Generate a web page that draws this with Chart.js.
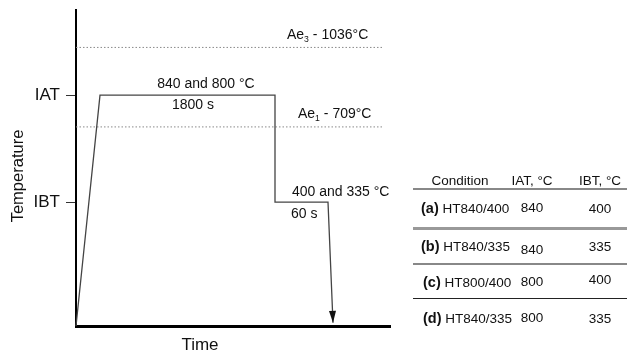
<!DOCTYPE html>
<html>
<head>
<meta charset="utf-8">
<title>Heat treatment cycle</title>
<script src="https://cdn.jsdelivr.net/npm/chart.js@4.4.0/dist/chart.umd.min.js"></script>
<style>
  html, body { margin: 0; padding: 0; background: #fff; }
  #wrap { position: relative; width: 627px; height: 354px; font-family: "Liberation Sans", Arial, sans-serif; color: #111; }
  #cycle { position: absolute; left: 0; top: 0; }
  .cell { position: absolute; font-size: 13.5px; white-space: nowrap; transform: translate(-50%, -50%); }
  .lab { position: absolute; font-size: 13.5px; white-space: nowrap; transform: translateY(-50%); }
  .lab b { font-size: 14.5px; }
  .rule { position: absolute; left: 413px; width: 214px; }
</style>
</head>
<body>
<div id="wrap">
  <canvas id="cycle" width="627" height="354"></canvas>
  <div id="conditions"></div>
</div>
<script>
// thermal cycle (schematic time axis, temperature in °C)
const timePts = [0, 24, 199, 199, 252, 257];
const tempPts = [-110, 840, 840, 400, 400, -97];

// critical temperatures
const aeNames = ["Ae3", "Ae1"];
const aeTemps = [1036, 709];
const aeSpan = [0, 307];

// temperature axis ticks
const tickTemps = [400, 840];
const tickLabels = ["IBT", "IAT"];

// conditions table
const condKeys = ["(a)", "(b)", "(c)", "(d)"];
const condCodes = ["HT840/400", "HT840/335", "HT800/400", "HT840/335"];
const condIAT = [840, 840, 800, 800];
const condIBT = [400, 335, 400, 335];

const FONT = "'Liberation Sans', Arial, sans-serif";

// ---- table ----
const tbl = document.getElementById("conditions");
const rowY = [208, 246, 282, 318];
const rules = [[189, 2, "#888"], [228, 3, "#999"], [264, 2, "#888"], [298, 1, "#222"]];

function put(cls, html, x, y) {
  const d = document.createElement("div");
  d.className = cls;
  d.innerHTML = html;
  d.style.left = x + "px";
  d.style.top = y + "px";
  tbl.appendChild(d);
}

put("cell", "Condition", 460, 180);
put("cell", "IAT, °C", 532, 180);
put("cell", "IBT, °C", 600, 180);
rules.forEach(([y, h, c]) => {
  const r = document.createElement("div");
  r.className = "rule";
  r.style.top = (y - h / 2) + "px";
  r.style.height = h + "px";
  r.style.background = c;
  tbl.appendChild(r);
});
condKeys.forEach((k, i) => {
  put("lab", `<b>${k}</b> ${condCodes[i]}`, i < 2 ? 421 : 423, rowY[i]);
  put("cell", condIAT[i], 532, rowY[i] + (i === 1 ? 3 : -1));
  put("cell", condIBT[i], 600, rowY[i] + (i === 2 ? -3 : 0));
});

// ---- chart ----
function drawRuns(ctx, runs, x, y, size) {
  let cx = x;
  runs.forEach(r => {
    const s = r.sub ? size * 0.62 : size;
    ctx.font = s + "px " + FONT;
    ctx.fillText(r.t, cx, r.sub ? y + size * 0.32 : y);
    cx += ctx.measureText(r.t).width;
  });
}

const cycleNotes = {
  id: "cycleNotes",
  afterDatasetsDraw(chart) {
    const { ctx, scales: { x, y } } = chart;
    ctx.save();

    // arrowhead on the final cooling line
    const pts = chart.getDatasetMeta(0).data;
    const a = pts[pts.length - 2], b = pts[pts.length - 1];
    const ang = Math.atan2(b.y - a.y, b.x - a.x);
    const len = 12, half = 3.5;
    ctx.fillStyle = "#111";
    ctx.beginPath();
    ctx.moveTo(b.x, b.y);
    ctx.lineTo(b.x - len * Math.cos(ang) + half * Math.sin(ang), b.y - len * Math.sin(ang) - half * Math.cos(ang));
    ctx.lineTo(b.x - len * Math.cos(ang) - half * Math.sin(ang), b.y - len * Math.sin(ang) + half * Math.cos(ang));
    ctx.closePath();
    ctx.fill();

    ctx.fillStyle = "#111";
    ctx.textBaseline = "middle";
    ctx.textAlign = "left";

    // critical temperature labels
    drawRuns(ctx, [{ t: "Ae" }, { t: "3", sub: true }, { t: " - " + aeTemps[0] + "°C" }],
      x.getPixelForValue(211), y.getPixelForValue(aeTemps[0]) - 12, 14);
    drawRuns(ctx, [{ t: "Ae" }, { t: "1", sub: true }, { t: " - " + aeTemps[1] + "°C" }],
      x.getPixelForValue(222), y.getPixelForValue(aeTemps[1]) - 13, 14);

    // hold step labels
    ctx.font = "14px " + FONT;
    ctx.textAlign = "center";
    ctx.fillText("840 and 800 °C", x.getPixelForValue(130), y.getPixelForValue(840) - 11);
    ctx.fillText("1800 s", x.getPixelForValue(117), y.getPixelForValue(840) + 10);
    ctx.textAlign = "left";
    ctx.fillText("400 and 335 °C", x.getPixelForValue(216), y.getPixelForValue(400) - 10);
    ctx.fillText("60 s", x.getPixelForValue(215), y.getPixelForValue(400) + 12);

    // axis titles
    ctx.textAlign = "center";
    ctx.font = "17px " + FONT;
    ctx.fillText("Time", 200, 345);
    ctx.translate(18, 176);
    ctx.rotate(-Math.PI / 2);
    ctx.font = "16.5px " + FONT;
    ctx.fillText("Temperature", 0, 0);
    ctx.restore();
  }
};

const aeSets = aeNames.map((name, i) => ({
  label: name,
  data: aeSpan.map(t => ({ x: t, y: aeTemps[i] })),
  borderColor: "#8a8a8a",
  borderWidth: 1,
  borderDash: [1.5, 2],
  pointRadius: 0,
  fill: false
}));

new Chart(document.getElementById("cycle"), {
  type: "line",
  data: {
    datasets: [{
      label: "cycle",
      data: timePts.map((t, i) => ({ x: t, y: tempPts[i] })),
      borderColor: "#444",
      borderWidth: 1.3,
      pointRadius: 0,
      tension: 0,
      fill: false,
      clip: false
    }, ...aeSets]
  },
  options: {
    responsive: false,
    animation: false,
    layout: { padding: { top: 10, right: 237, left: 0, bottom: 0 } },
    plugins: { legend: { display: false }, tooltip: { enabled: false } },
    scales: {
      x: {
        type: "linear",
        min: 0,
        max: 314,
        grid: { display: false },
        ticks: { display: false },
        border: { color: "#000", width: 3 },
        afterFit: s => { s.height = 28; s.paddingLeft = 0; s.paddingRight = 0; }
      },
      y: {
        type: "linear",
        min: -110,
        max: 1190,
        afterBuildTicks: s => { s.ticks = tickTemps.map(v => ({ value: v })); },
        ticks: {
          callback: v => tickLabels[tickTemps.indexOf(v)],
          font: { size: 17, family: FONT },
          color: "#111",
          padding: 6
        },
        grid: { drawOnChartArea: false, tickLength: 10, color: "#333", lineWidth: 1 },
        border: { color: "#000", width: 2 },
        afterFit: s => { s.width = 76; s.paddingTop = 0; s.paddingBottom = 0; }
      }
    }
  },
  plugins: [cycleNotes]
});
</script>
</body>
</html>
